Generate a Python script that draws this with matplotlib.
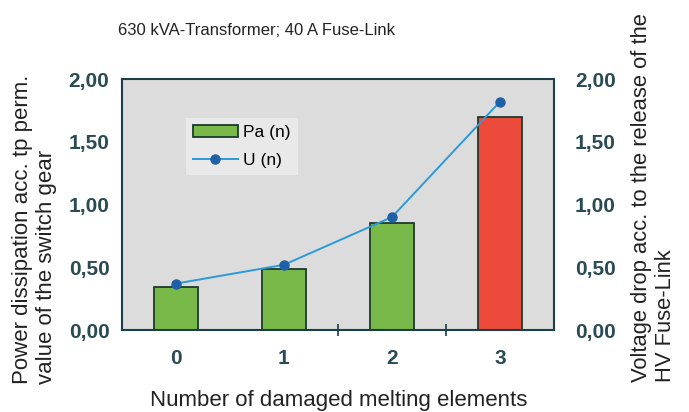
import numpy as np
import matplotlib
matplotlib.use("Agg")
import matplotlib.pyplot as plt

# values
n_damaged = [0, 1, 2, 3]
pa_values = [0.34, 0.49, 0.85, 1.70]
u_values = [0.37, 0.52, 0.90, 1.82]
bar_colors = ["#78b94a", "#78b94a", "#78b94a", "#ec4a3a"]
y_ticks = [0.0, 0.5, 1.0, 1.5, 2.0]
y_ticklabels = ["0,00", "0,50", "1,00", "1,50", "2,00"]

plt.rcParams["font.family"] = ["Liberation Sans", "DejaVu Sans"]
text_col = "#222222"
tick_col = "#2a4a55"

fig = plt.figure(figsize=(6.89, 4.12), dpi=100)
ax = fig.add_axes([0.177, 0.199, 0.627, 0.609])
ax.set_facecolor("#dcdcdc")

bars = ax.bar(n_damaged, pa_values, width=0.41, color=bar_colors,
              edgecolor="#1c3a2c", linewidth=1.3, label="Pa (n)", zorder=2)
line, = ax.plot(n_damaged, u_values, color="#2a9ad8", linewidth=1.4, marker="o",
                markersize=6.5, markerfacecolor="#1f5fa8", markeredgecolor="#1f5fa8",
                label="U (n)", zorder=3)

ax.set_xlim(-0.5, 3.5)
ax.set_ylim(0, 2.0)
ax.set_yticks(y_ticks)
ax.set_yticklabels(y_ticklabels)
ax.set_xticks(n_damaged)
ax.set_xticklabels([str(n) for n in n_damaged])
ax.set_xticks([1.5, 2.5], minor=True)
ax.tick_params(axis="x", which="major", length=0, pad=14,
               labelsize=15, labelcolor=tick_col)
ax.tick_params(axis="x", which="minor", length=8, direction="inout",
               color=tick_col, width=1.3)
ax.tick_params(axis="y", length=0, pad=9, labelsize=15, labelcolor=tick_col)
for lbl in ax.get_xticklabels() + ax.get_yticklabels():
    lbl.set_fontweight("bold")
for sp in ax.spines.values():
    sp.set_color("#1d3d48")
    sp.set_linewidth(1.5)

ax2 = ax.twinx()
ax2.set_ylim(0, 2.0)
ax2.set_yticks(y_ticks)
ax2.set_yticklabels(y_ticklabels)
ax2.tick_params(axis="y", length=0, pad=15, labelsize=15, labelcolor=tick_col)
for lbl in ax2.get_yticklabels():
    lbl.set_fontweight("bold")
for sp in ax2.spines.values():
    sp.set_visible(False)

leg = ax.legend([bars, line], ["Pa (n)", "U (n)"], loc="upper left",
                bbox_to_anchor=(0.128, 0.88), fontsize=12.5,
                frameon=True, fancybox=False, handlelength=2.6,
                handletextpad=0.3, borderpad=0.4, labelspacing=0.75)
leg.get_frame().set_facecolor("#ececec")
leg.get_frame().set_edgecolor("none")
leg.get_frame().set_alpha(0.85)

fig.text(0.372, 0.927, "630 kVA-Transformer; 40 A Fuse-Link", ha="center",
         va="center", fontsize=12, color=text_col)
fig.text(0.491, 0.027, "Number of damaged melting elements", ha="center",
         va="center", fontsize=16, color=text_col)
fig.text(0.017, 0.068, "Power dissipation acc. tp perm.\nvalue of the switch gear",
         rotation=90, ha="left", va="bottom", multialignment="left",
         fontsize=16, color=text_col, linespacing=1.2)
fig.text(0.916, 0.072, "Voltage drop acc. to the release of the\nHV Fuse-Link",
         rotation=90, ha="left", va="bottom", multialignment="left",
         fontsize=15.8, color=text_col, linespacing=1.2)

fig.savefig("out.png", dpi=100)
